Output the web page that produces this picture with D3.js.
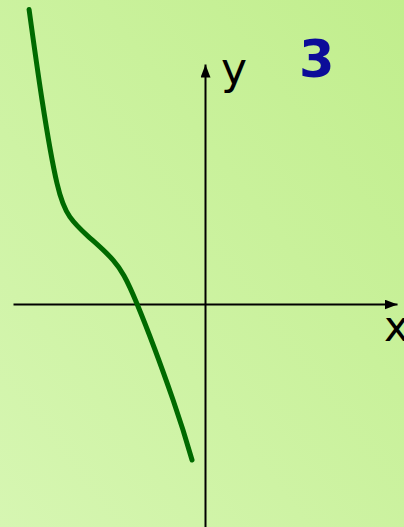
<!DOCTYPE html>
<html>
<head>
<meta charset="utf-8">
<script src="https://cdn.jsdelivr.net/npm/d3@7"></script>
<style>
  html, body { margin: 0; padding: 0; overflow: hidden; }
  #chart { width: 404px; height: 527px; }
</style>
</head>
<body>
<div id="chart"></div>
<script>
// curve, in axis units (1 unit = 24px)
var curveX = [-7.33, -6.79, -6.17, -5.63, -4.88, -3.83, -2.83, -1.33, -0.54];
var curveY = [12.27, 8.5, 5.04, 3.63, 2.83, 1.83, 0, -4.0, -6.5];
var axisLabels = ["x", "y"];
var panelNumber = "3";

var width = 404, height = 527;

var svg = d3.select("#chart").append("svg")
    .attr("width", width)
    .attr("height", height);

var defs = svg.append("defs");
var grad = defs.append("linearGradient")
    .attr("id", "bg")
    .attr("x1", "0%").attr("y1", "100%")
    .attr("x2", "100%").attr("y2", "0%");
grad.append("stop").attr("offset", "0%").attr("stop-color", "#d6f6b2");
grad.append("stop").attr("offset", "100%").attr("stop-color", "#c1ee8d");

defs.append("marker")
    .attr("id", "arrow")
    .attr("viewBox", "0 0 13 10")
    .attr("refX", 13).attr("refY", 5)
    .attr("markerWidth", 13).attr("markerHeight", 10)
    .attr("markerUnits", "userSpaceOnUse")
    .attr("orient", "auto")
    .append("path")
    .attr("d", "M0,0L13,5L0,10Z")
    .attr("fill", "#000");

svg.append("rect")
    .attr("width", width).attr("height", height)
    .attr("fill", "url(#bg)");

// scales: origin at (205, 304)
var xScale = d3.scaleLinear().domain([-8, 8]).range([13, 397]);
var yScale = d3.scaleLinear().domain([-10, 10]).range([544, 64]);

// x axis
var xAxis = svg.append("g")
    .attr("transform", "translate(0," + yScale(0) + ")")
    .call(d3.axisBottom(xScale).ticks(0).tickSizeOuter(0));
xAxis.select(".domain")
    .attr("stroke", "#000")
    .attr("stroke-width", 2)
    .attr("marker-end", "url(#arrow)");

// y axis
var yAxis = svg.append("g")
    .attr("transform", "translate(" + xScale(0) + ",0)")
    .call(d3.axisLeft(yScale).ticks(0).tickSizeOuter(0));
yAxis.select(".domain")
    .attr("stroke", "#000")
    .attr("stroke-width", 2)
    .attr("marker-end", "url(#arrow)");

// the curve
var pts = curveX.map(function(d, i) { return {x: d, y: curveY[i]}; });
var line = d3.line()
    .x(function(d) { return xScale(d.x); })
    .y(function(d) { return yScale(d.y); })
    .curve(d3.curveNatural);

svg.append("path")
    .datum(pts)
    .attr("d", line)
    .attr("fill", "none")
    .attr("stroke", "#006a00")
    .attr("stroke-width", 5)
    .attr("stroke-linecap", "round");

// labels
svg.append("text")
    .attr("x", 384).attr("y", 341)
    .attr("font-family", "DejaVu Sans, sans-serif")
    .attr("font-size", 42)
    .attr("fill", "#000")
    .text(axisLabels[0]);

svg.append("text")
    .attr("x", 221).attr("y", 84)
    .attr("font-family", "DejaVu Sans, sans-serif")
    .attr("font-size", 44)
    .attr("fill", "#000")
    .text(axisLabels[1]);

svg.append("text")
    .attr("x", 299).attr("y", 77)
    .attr("font-family", "DejaVu Sans, sans-serif")
    .attr("font-weight", "bold")
    .attr("font-size", 51)
    .attr("fill", "#0c0c99")
    .text(panelNumber);
</script>
</body>
</html>
